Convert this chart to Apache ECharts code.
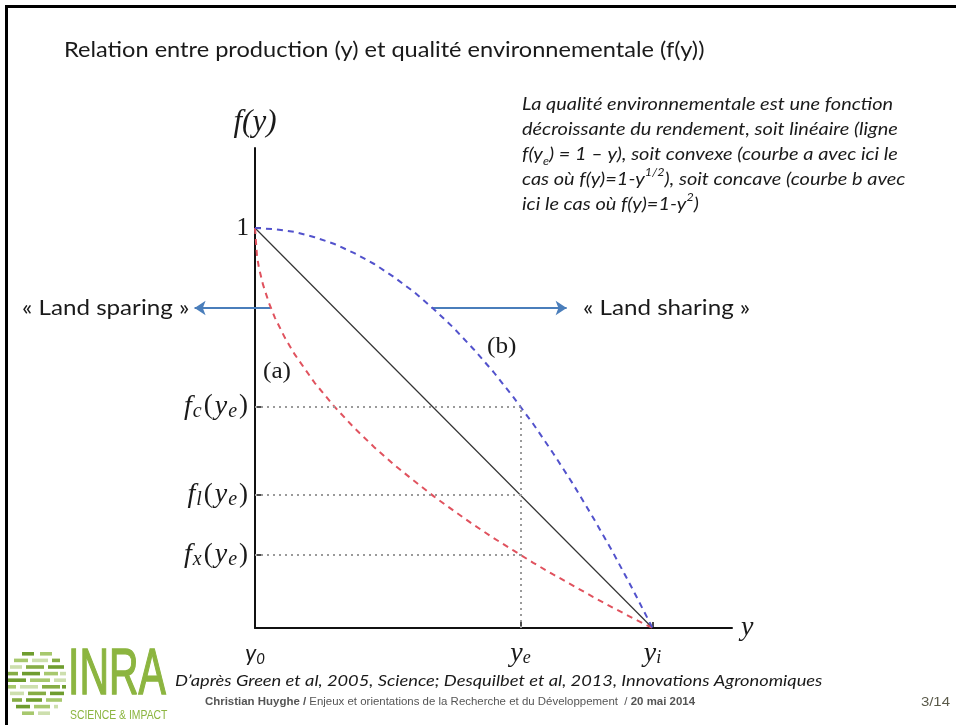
<!DOCTYPE html>
<html>
<head>
<meta charset="utf-8">
<script src="https://cdn.jsdelivr.net/npm/echarts@6/dist/echarts.min.js"></script>
<style>
html,body{margin:0;padding:0;background:#fff;}
#main{width:956px;height:725px;}
</style>
</head>
<body>
<div id="main"></div>
<script>
// ---- data ----
const yE = 0.668;                 // position of y_e on the production axis
const linearCurve = [[0, 1], [1, 0]];
const convexCurve = [            // curve (a), red dashed
  [0, 1], [0.005, 0.93], [0.01, 0.9], [0.02, 0.859], [0.035, 0.813], [0.05, 0.776],
  [0.075, 0.726], [0.1, 0.684], [0.15, 0.613], [0.2, 0.553], [0.25, 0.5],
  [0.3, 0.452], [0.35, 0.408], [0.4, 0.368], [0.45, 0.329], [0.5, 0.293],
  [0.55, 0.258], [0.6, 0.225], [0.65, 0.194], [0.7, 0.163], [0.75, 0.134],
  [0.8, 0.106], [0.85, 0.078], [0.9, 0.051], [0.95, 0.025], [1, 0]
];
const concaveCurve = [           // curve (b), blue dashed
  [0, 1], [0.05, 0.997], [0.1, 0.99], [0.15, 0.977], [0.2, 0.96], [0.25, 0.937],
  [0.3, 0.91], [0.35, 0.877], [0.4, 0.84], [0.45, 0.797], [0.5, 0.75],
  [0.55, 0.697], [0.6, 0.64], [0.65, 0.577], [0.7, 0.51], [0.75, 0.437],
  [0.8, 0.36], [0.85, 0.277], [0.9, 0.19], [0.95, 0.097], [1, 0]
];
const fC = 0.554, fL = 0.333, fX = 0.183;
const yTickValues = [fX, fL, fC, 1];
const yTickKeys = ['fx', 'fl', 'fc', 'one'];
const xTickValues = [0, yE, 1];
const xTickKeys = ['y0', 'ye', 'yi'];
const arrowLevel = 0.8;
const sparingArrow = [[0.038, arrowLevel], [-0.152, arrowLevel]];
const sharingArrow = [[0.444, arrowLevel], [0.784, arrowLevel]];

// ---- styles ----
const serif = '"Liberation Serif", "DejaVu Serif", serif';
const sans = 'Lato, "Open Sans", sans-serif';
const arial = '"Liberation Sans", Arial, sans-serif';
const SX = 1.15; // horizontal stretch of the slide text
const ink = '#1a1a1a';
const richY = {
  f: {fontFamily: serif, fontStyle: 'italic', fontSize: 28, lineHeight: 30, color: ink, padding: [0, 1, 0, 1]},
  p: {fontFamily: serif, fontSize: 27, lineHeight: 30, color: ink, padding: [0, 1, 0, 1]},
  s: {fontFamily: serif, fontStyle: 'italic', fontSize: 20, lineHeight: 14, verticalAlign: 'bottom', color: ink, padding: [0, 1, 0, 0]},
  one: {fontFamily: serif, fontSize: 25, lineHeight: 30, color: ink}
};
const yLabelText = {
  fx: '{f|f}{s|x}{p|(}{f|y}{s|e}{p|)}',
  fl: '{f|f}{s|l}{p|(}{f|y}{s|e}{p|)}',
  fc: '{f|f}{s|c}{p|(}{f|y}{s|e}{p|)}',
  one: '{one|1}'
};
const richX = {
  c: {fontFamily: sans, fontStyle: 'italic', fontSize: 23, lineHeight: 26, color: ink},
  cs: {fontFamily: sans, fontStyle: 'italic', fontSize: 15, lineHeight: 12, verticalAlign: 'bottom', color: ink},
  f: {fontFamily: serif, fontStyle: 'italic', fontSize: 28, lineHeight: 26, color: ink},
  s: {fontFamily: serif, fontStyle: 'italic', fontSize: 18, lineHeight: 12, verticalAlign: 'bottom', color: ink}
};
const xLabelText = {
  y0: '{c|y}{cs|0}',
  ye: '{f|y}{s|e}',
  yi: '{f|y}{s|i}'
};
function nearestKey(v, values, keys) {
  let best = 0;
  for (let i = 1; i < values.length; i++) {
    if (Math.abs(values[i] - v) < Math.abs(values[best] - v)) best = i;
  }
  return keys[best];
}
function slideText(text, x, y, font, opts) {
  opts = opts || {};
  return {
    type: 'text', x: x, y: y, scaleX: opts.scaleX || SX, silent: true,
    style: Object.assign({text: text, x: 0, y: 0, font: font, fill: ink, verticalAlign: 'middle'}, opts.style || {})
  };
}

// ---- logo pieces (decoration) ----
const logoRows = [
  [[22, 34], [40, 52]],
  [[14, 28], [32, 48], [52, 60]],
  [[10, 22], [26, 44], [48, 64]],
  [[8, 18], [22, 40], [44, 58], [60, 66]],
  [[8, 26], [30, 50], [54, 66]],
  [[8, 16], [20, 38], [42, 60], [62, 66]],
  [[10, 24], [28, 46], [50, 64]],
  [[12, 22], [26, 42], [46, 62]],
  [[16, 30], [34, 50], [54, 58]],
  [[22, 34], [38, 50]]
];
const logoColors = ['#6f9d2f', '#a7c86e', '#cddfae', '#86ad45'];
const logoGraphics = [];
logoRows.forEach((row, r) => {
  row.forEach((seg, k) => {
    logoGraphics.push({
      type: 'rect',
      shape: {x: seg[0], y: 652 + r * 6.6, width: seg[1] - seg[0], height: 3.6},
      style: {fill: logoColors[(r + k) % logoColors.length]},
      silent: true
    });
  });
});

const chart = echarts.init(document.getElementById('main'), null, {renderer: 'canvas'});
const option = {
  backgroundColor: '#ffffff',
  animation: false,
  grid: {left: 255, top: 148, width: 477, height: 480, containLabel: false},
  xAxis: {
    type: 'value', min: 0, max: 1.2,
    axisLine: {show: true, lineStyle: {color: '#111', width: 2}},
    splitLine: {show: false},
    axisTick: {show: true, inside: true, length: 6, customValues: [yE, 1], lineStyle: {color: '#111', width: 1.5}},
    axisLabel: {
      show: true, margin: 13, customValues: xTickValues,
      formatter: v => xLabelText[nearestKey(v, xTickValues, xTickKeys)],
      rich: richX
    },
    name: 'y', nameLocation: 'end', nameGap: 9,
    nameTextStyle: {fontFamily: serif, fontStyle: 'italic', fontSize: 28, color: ink, verticalAlign: 'middle'}
  },
  yAxis: {
    type: 'value', min: 0, max: 1.2,
    axisLine: {show: true, lineStyle: {color: '#111', width: 2}},
    splitLine: {show: false},
    axisTick: {show: true, inside: true, length: 6, customValues: yTickValues, lineStyle: {color: '#111', width: 1.5}},
    axisLabel: {
      show: true, margin: 6, customValues: yTickValues,
      formatter: v => yLabelText[nearestKey(v, yTickValues, yTickKeys)],
      rich: richY
    },
    name: 'f(y)', nameLocation: 'end', nameGap: 10,
    nameTextStyle: {fontFamily: serif, fontStyle: 'italic', fontSize: 31, color: ink, align: 'center'}
  },
  series: [
    {
      name: 'guides', type: 'line', data: [], symbol: 'none', silent: true,
      markLine: {
        silent: true, symbol: ['none', 'none'],
        label: {show: false},
        lineStyle: {color: '#9a9a9a', type: [2, 4], width: 2},
        data: [
          [{coord: [0, fC]}, {coord: [yE, fC]}],
          [{coord: [0, fL]}, {coord: [yE, fL]}],
          [{coord: [0, fX]}, {coord: [yE, fX]}],
          [{coord: [yE, 0]}, {coord: [yE, fC]}]
        ]
      }
    },
    {
      name: 'linéaire', type: 'line', data: linearCurve, symbol: 'none',
      lineStyle: {color: '#333', width: 1.2}
    },
    {
      name: 'convexe (a)', type: 'line', data: convexCurve, symbol: 'none',
      lineStyle: {color: '#e0525e', width: 2, type: [6, 5]}
    },
    {
      name: 'concave (b)', type: 'line', data: concaveCurve, symbol: 'none',
      lineStyle: {color: '#5252cc', width: 2, type: [6, 5]}
    },
    {
      name: 'arrows', type: 'lines', coordinateSystem: 'cartesian2d', clip: false,
      symbol: ['none', 'arrow'], symbolSize: 11, silent: true,
      lineStyle: {color: '#4a7ebb', width: 2, opacity: 1},
      data: [{coords: sparingArrow}, {coords: sharingArrow}]
    }
  ],
  graphic: [
    // slide frame (top & left)
    {type: 'rect', shape: {x: 5, y: 5, width: 951, height: 3}, style: {fill: '#000'}, silent: true},
    {type: 'rect', shape: {x: 5, y: 5, width: 3, height: 720}, style: {fill: '#000'}, silent: true},
    slideText('Relation entre production (y) et qualité environnementale (f(y))', 64, 50, '20.5px ' + sans),
    {type: 'text', x: 522, y: 92, scaleX: 1.14, silent: true, style: {
      x: 0, y: 0, fill: ink,
      text: '{n|La qualité environnementale est une fonction}\n' +
            '{n|décroissante du rendement, soit linéaire (ligne}\n' +
            '{n|f(y}{b|e}{n|) = 1 – y), soit convexe (courbe a avec ici le}\n' +
            '{n|cas où f(y)=1-y}{t|1/2}{n|), soit concave (courbe b avec}\n' +
            '{n|ici le cas où f(y)=1-y}{t|2}{n|)}',
      rich: {
        n: {fontFamily: sans, fontStyle: 'italic', fontSize: 17.5, lineHeight: 25, fill: ink},
        b: {fontFamily: sans, fontStyle: 'italic', fontSize: 11, lineHeight: 9, verticalAlign: 'bottom', fill: ink},
        t: {fontFamily: sans, fontStyle: 'italic', fontSize: 11, lineHeight: 11, verticalAlign: 'top', fill: ink}
      }
    }},
    slideText('« Land sparing »', 22, 308, '21px ' + sans),
    slideText('« Land sharing »', 583, 308, '21px ' + sans),
    slideText('(a)', 263, 372, '24px ' + serif, {scaleX: 1.05}),
    slideText('(b)', 487, 347, '24px ' + serif, {scaleX: 1.05}),
    slideText('D’après Green et al, 2005, Science; Desquilbet et al, 2013, Innovations Agronomiques', 175, 681, 'italic 16px ' + sans, {scaleX: 1.143}),
    {type: 'text', x: 450, y: 702, scaleX: 1.145, silent: true, style: {
      x: 0, y: 0, align: 'center', verticalAlign: 'middle',
      text: '{b|Christian Huyghe / }{n|Enjeux et orientations de la Recherche et du Développement  / }{b|20 mai 2014}',
      rich: {
        b: {fontFamily: arial, fontWeight: 'bold', fontSize: 10, fill: '#555'},
        n: {fontFamily: arial, fontSize: 10, fill: '#555'}
      }
    }},
    slideText('3/14', 950, 702, '13px ' + arial, {style: {align: 'right', fill: '#5a5a4a'}}),
    // INRA logo
    {type: 'text', x: 68, y: 676, scaleX: 0.64, silent: true, style: {text: 'INRA', x: 0, y: 0, verticalAlign: 'middle',
      font: '64px ' + arial, fill: '#8cb540', stroke: '#8cb540', lineWidth: 1.5}},
    {type: 'text', x: 70, y: 715, scaleX: 0.8, silent: true, style: {text: 'SCIENCE & IMPACT', x: 0, y: 0, verticalAlign: 'middle',
      font: '13px ' + arial, fill: '#8cb540'}}
  ].concat(logoGraphics)
};
chart.setOption(option);
</script>
</body>
</html>
